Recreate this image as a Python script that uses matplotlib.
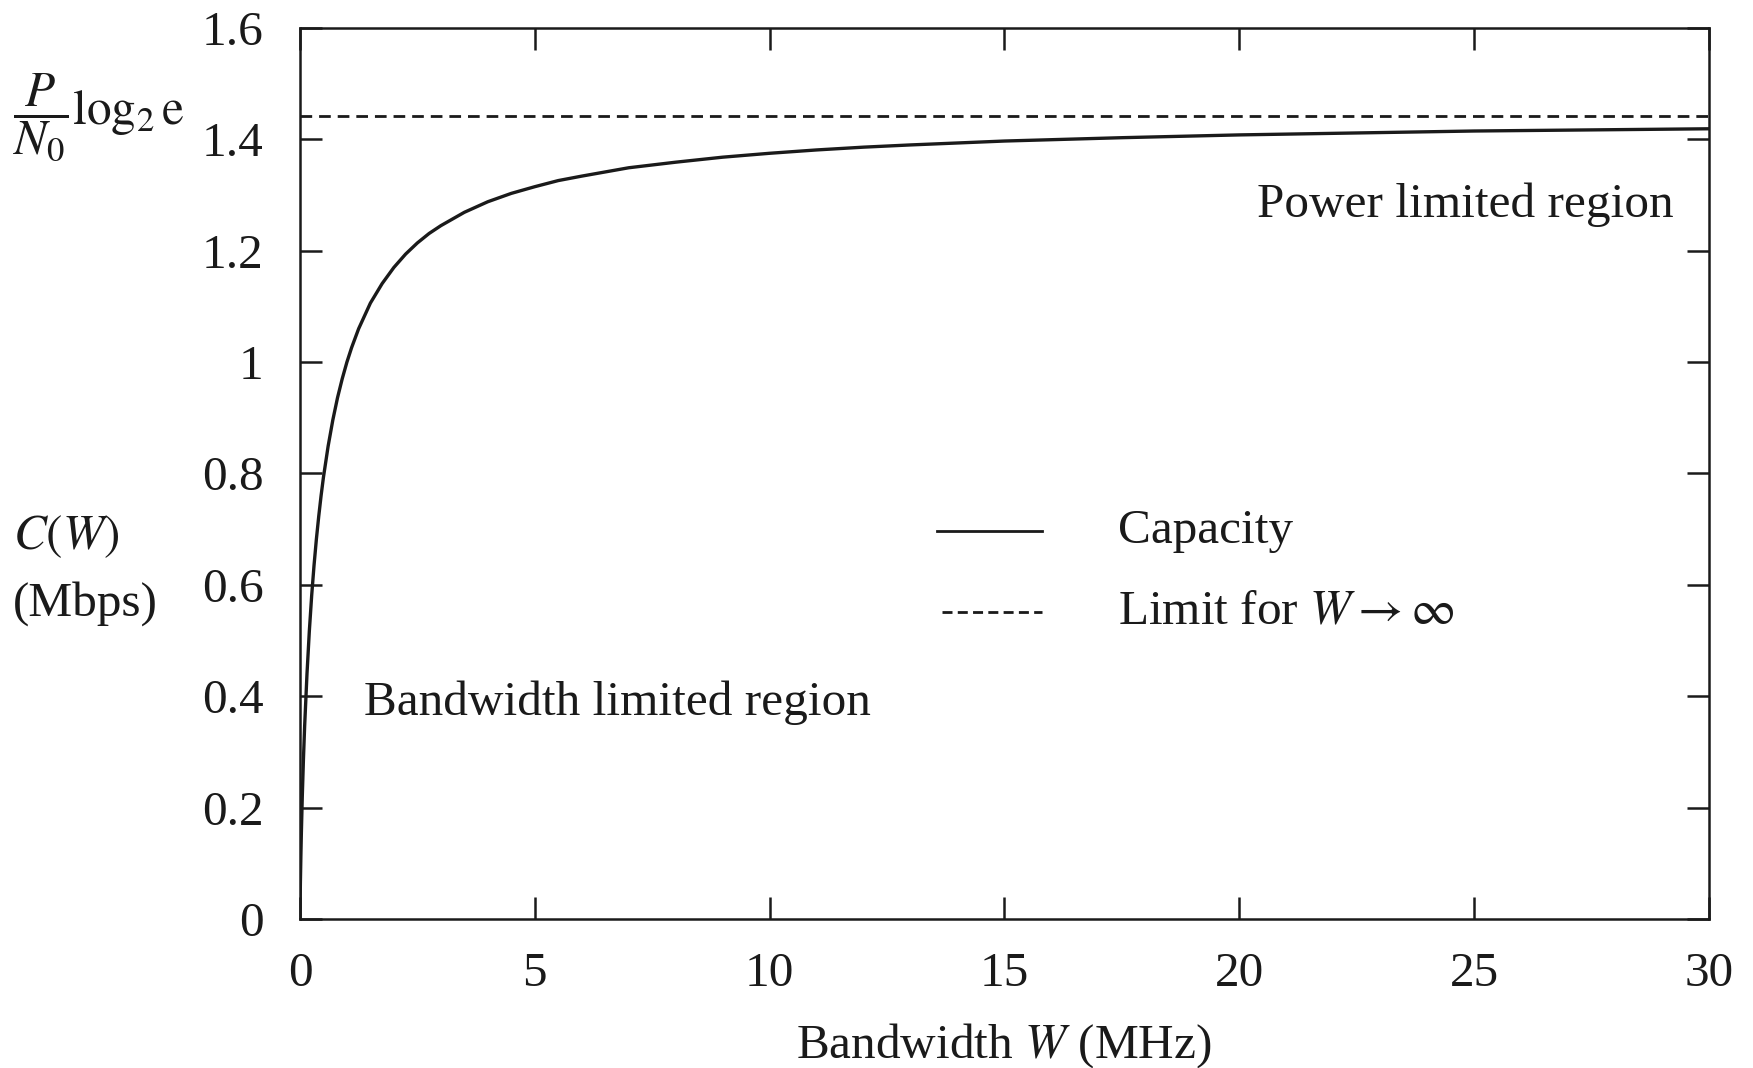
import matplotlib
matplotlib.use("Agg")
import matplotlib.pyplot as plt

# Data
bandwidth_mhz = [0.0, 0.001, 0.005, 0.01, 0.02, 0.03, 0.05, 0.075, 0.1, 0.15, 0.2, 0.25,
                 0.3, 0.35, 0.4, 0.45, 0.5, 0.6, 0.7, 0.8, 0.9, 1.0, 1.1, 1.25, 1.5,
                 1.75, 2.0, 2.25, 2.5, 2.75, 3.0, 3.5, 4.0, 4.5, 5.0, 5.5, 6.0, 7.0,
                 8.0, 9.0, 10.0, 11.0, 12.0, 13.0, 15.0, 17.5, 20.0, 25.0, 30.0]
capacity_mbps = [0.0, 0.010, 0.038, 0.067, 0.113, 0.153, 0.220, 0.288, 0.346, 0.440,
                 0.517, 0.581, 0.635, 0.682, 0.723, 0.760, 0.793, 0.849, 0.896, 0.936,
                 0.970, 1.000, 1.026, 1.060, 1.106, 1.141, 1.170, 1.194, 1.214, 1.231,
                 1.245, 1.269, 1.288, 1.303, 1.315, 1.326, 1.334, 1.349, 1.359, 1.368,
                 1.375, 1.381, 1.386, 1.390, 1.397, 1.403, 1.408, 1.415, 1.419]
limit_value = 1.4427
x_ticks = [0, 5, 10, 15, 20, 25, 30]
y_ticks = [0, 0.2, 0.4, 0.6, 0.8, 1.0, 1.2, 1.4, 1.6]
y_tick_labels = ["0", "0.2", "0.4", "0.6", "0.8", "1", "1.2", "1.4", "1.6"]

plt.rcParams["font.family"] = ["Liberation Serif", "DejaVu Serif"]
plt.rcParams["mathtext.fontset"] = "stix"

FS = 35.5
INK = "#1a1a1a"
fig = plt.figure(figsize=(17.53, 10.68), dpi=100)
ax = fig.add_axes([0.1711, 0.1395, 0.9749 - 0.1711, 0.9738 - 0.1395])

ax.plot(bandwidth_mhz, capacity_mbps, color=INK, lw=2.4, solid_joinstyle="round")
ax.axhline(limit_value, color=INK, lw=2.0, ls=(0, (4.2, 2.5)))

ax.set_xlim(0, 30)
ax.set_ylim(0, 1.6)
ax.set_xticks(x_ticks)
ax.set_xticklabels([str(v) for v in x_ticks])
ax.set_yticks(y_ticks)
ax.set_yticklabels(y_tick_labels)
ax.tick_params(direction="in", length=16, width=1.8, top=True, right=True,
               labelsize=FS, colors=INK)
ax.tick_params(axis="x", pad=24)
ax.tick_params(axis="y", pad=26)
for s in ax.spines.values():
    s.set_linewidth(1.8)
    s.set_color(INK)

# annotations
ax.text(29.25, 1.283, "Power limited region", fontsize=FS, ha="right", va="center",
        color=INK)
ax.text(1.36, 0.388, "Bandwidth limited region", fontsize=FS, ha="left", va="center",
        color=INK)

# manual legend
ax.plot([13.56, 15.80], [0.697, 0.697], color=INK, lw=2.0)
ax.plot([13.67, 15.80], [0.551, 0.551], color=INK, lw=2.0, ls=(0, (3.6, 1.9)))
ax.text(17.42, 0.697, "Capacity", fontsize=FS, ha="left", va="center", color=INK)
ax.text(17.42, 0.551, r"Limit for $W \rightarrow \infty$", fontsize=FS, ha="left",
        va="center", color=INK)

# axis labels
fig.text(1004 / 1753, 1 - 1046 / 1068, r"Bandwidth $W$ (MHz)", fontsize=FS,
         ha="center", va="center", color=INK)
fig.text(13 / 1753, 1 - 537 / 1068, r"$C(W)$", fontsize=FS, ha="left", va="center",
         color=INK)
fig.text(13 / 1753, 1 - 604 / 1068, "(Mbps)", fontsize=FS, ha="left", va="center",
         color=INK)
fig.text(13 / 1753, 1 - 117 / 1068, r"$\dfrac{P}{N_0}\mathrm{log}_2\,\mathrm{e}$",
         fontsize=FS, ha="left", va="center", color=INK)

fig.savefig("out.png", dpi=100, facecolor="white")
